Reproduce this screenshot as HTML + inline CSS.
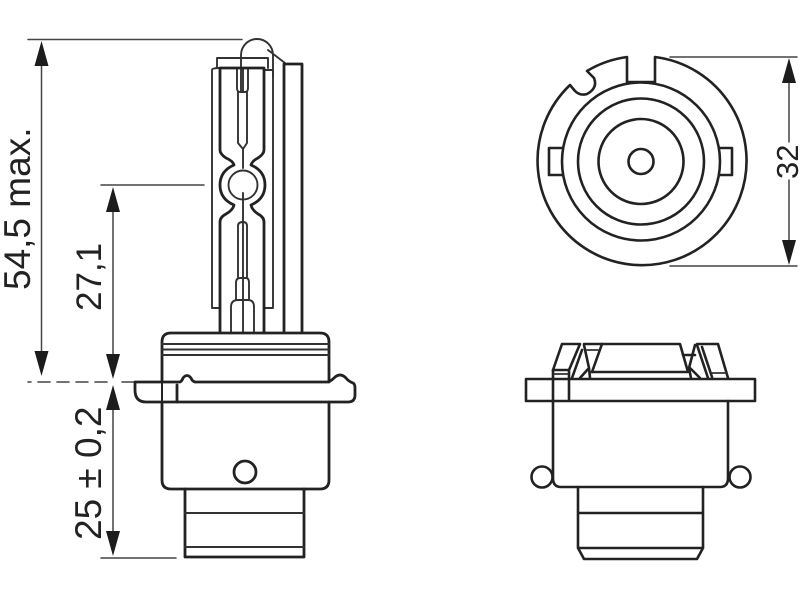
<!DOCTYPE html>
<html>
<head>
<meta charset="utf-8">
<style>
html,body{margin:0;padding:0;background:#fff;width:800px;height:600px;overflow:hidden}
svg{display:block}
text{font-family:"Liberation Sans",sans-serif;fill:#222}
</style>
</head>
<body>
<svg width="800" height="600" viewBox="0 0 800 600" xmlns="http://www.w3.org/2000/svg">
<defs><filter id="b" x="-5%" y="-5%" width="110%" height="110%"><feGaussianBlur stdDeviation="0.35"/></filter></defs>
<g filter="url(#b)" fill="none" stroke="#222" stroke-linejoin="round" stroke-linecap="round">
<!-- dimension lines left -->
<g stroke="#444" stroke-width="1.5">
<path d="M28,39.5H242M101,185H204M101,558H176M41.5,60V355M113,205V360M113,405V535"/>
<path d="M28,382H31M38,382H50M57,382H69M76,382H88M95,382H107M122,382H134" stroke-width="1.6"/>
<path d="M670,57H797M670,266H797M789,80V142M789,180V242"/>
</g>
<g fill="#1c1c1c" stroke="none">
<path d="M41.5,41L34.5,66H48.5Z"/><path d="M41.5,376L34.5,351H48.5Z"/>
<path d="M113,187L106,212H120Z"/><path d="M113,379L106,354H120Z"/>
<path d="M113,385L106,410H120Z"/><path d="M113,556L106,531H120Z"/>
<path d="M789,58L782,83H796Z"/><path d="M789,265L782,240H796Z"/>
</g>
<!-- bulb thin -->
<g stroke-width="1.9" stroke="#333">
<path d="M212,70V308H220M264,308H273V70H264M212,70Q212,68 220,68"/>
<path d="M217,68V58H268V68"/>
<path d="M241,92V55A16,16 0 0 1 273,55V77M268,50L285,63"/>
<path d="M243,68V92M243,149V168M243,193V332"/>
<path d="M237,68V88Q237,92 240,92H245Q248,92 248,88V68"/>
<path d="M238,92V143L243,149L247,143V92"/>
<path d="M238,277V226Q238,222 243,222Q247,222 247,226V277"/>
<path d="M236,300V283Q236,278 240,278H246Q249,278 249,283V300"/>
<path d="M231,332V307Q231,300 238,300H248Q254,300 254,307V332"/>
<circle cx="243" cy="185" r="14.5"/>
</g>
<g stroke-width="2.8">
<path d="M220,332V222Q220,217 226,214Q233,210 234,205Q220,199 220,185Q220,171 234,165Q233,161 226,158Q220,154 220,150V68H264V150Q264,154 258,158Q252,161 251,165Q265,171 265,185Q265,199 251,205Q252,210 258,214Q264,217 264,222V332"/>
<path d="M284,332V64H302V332"/>
<!-- side base -->
<path d="M162,382V342Q162,333 171,333H320Q329,333 329,342V382"/>
<path d="M162,402V480Q162,489 171,489H320Q329,489 329,480V402"/>
<path d="M162,382V402" stroke-width="2"/>
<path d="M135,382H180Q182,381 183,378Q187,373 191,378Q192,381 195,382H328Q331,381 334,378Q340,372 346,378Q348,381 353,383Q355,384 355,388V395Q355,402 348,402H146Q135,402 135,390Z"/>
<path d="M177,385V402"/>
<circle cx="245" cy="472" r="11"/>
<path d="M185,489V557H304V489"/>
</g>
<g stroke-width="1.9" stroke="#333">
<path d="M162,344H329M162,349.5H329M162,355H329"/>
<path d="M185,513H304M185,547H304"/>
</g>
<!-- top view -->
<g stroke-width="2.6">
<path d="M655,57A104.5,104.5 0 1 1 570,85L575,91Q580,96 587,94Q598,88 594,78L587,71A104.5,104.5 0 0 1 627,57V82H655Z"/>
<circle cx="641" cy="161.5" r="79"/>
<circle cx="641" cy="161.5" r="63"/>
<circle cx="641" cy="161.5" r="42.5"/>
<circle cx="641" cy="161.5" r="12.5"/>
<path d="M563,148H549V175H563M719,148H732V175H719"/>
</g>
<!-- front view -->
<g stroke-width="2.6">
<path d="M526,379H755V401H526Z"/>
<path d="M553,370V478Q553,487 561,487H720Q728,487 728,478V401"/>
<path d="M728,378L718,344H697M553,370L562,344H580L569,370H553M569,370V399"/>
<path d="M582,350L572,378"/>
<path d="M584,345L589,368L580,378M589,368L590,378M602,344L592,372M602,344H584"/>
<path d="M602,344H680L688,372H592"/>
<path d="M683,355H695M695,345L689,368L691,378M690,368L700,378"/>
<path d="M697,345L708,378M702,347L712,377"/>
</g>
<g stroke-width="1.8" stroke="#333">
<path d="M586,350H598M554,374H568M712,373H727"/>
</g>
<g stroke-width="2.6">
<circle cx="542" cy="477" r="10.5"/>
<circle cx="740" cy="477" r="10.5"/>
<path d="M578,487V548L584,559H697L703,548V487M578,513H703M578,548H703"/>
</g>
</g>
<g filter="url(#b)">
<text transform="translate(30,290) rotate(-90)" font-size="37">54,5 max.</text>
<text transform="translate(101,311) rotate(-90)" font-size="35">27,1</text>
<text transform="translate(101,540) rotate(-90)" font-size="37">25 ± 0,2</text>
<text transform="translate(798,179) rotate(-90)" font-size="31">32</text>
</g>
</svg>
</body>
</html>
